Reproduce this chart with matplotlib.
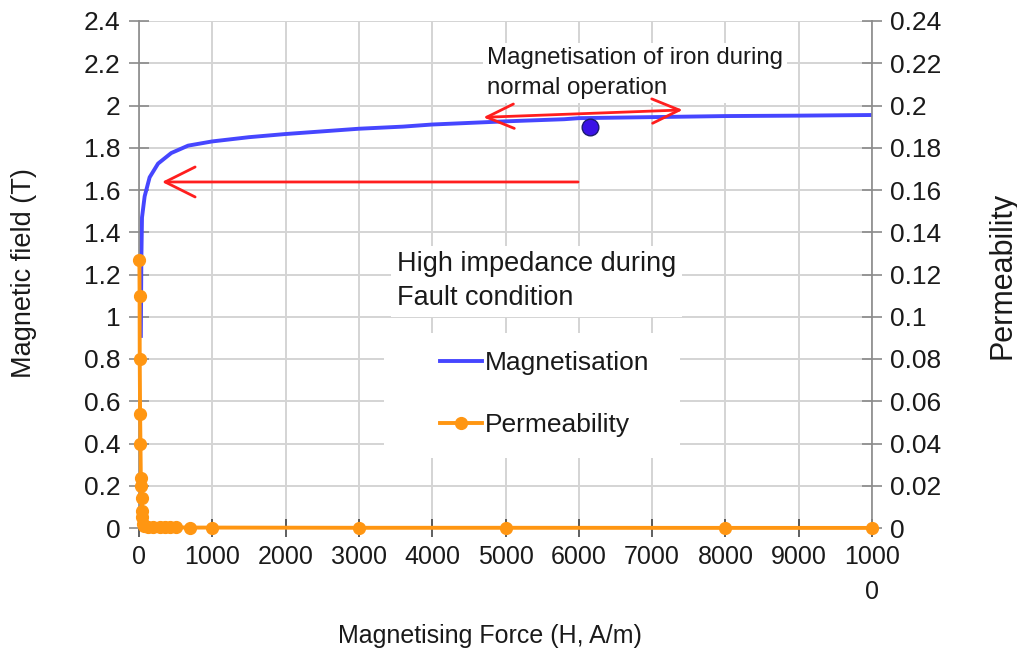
import matplotlib
matplotlib.use('Agg')
import matplotlib.pyplot as plt
from matplotlib.patches import Rectangle

plt.rcParams['font.family'] = ['Liberation Sans', 'DejaVu Sans']

# B-H magnetisation curve (left axis)
mag_H = [25, 32, 41, 77, 145, 260, 440, 670, 1000, 1500, 2000, 3000,
         3600, 4000, 5000, 5800, 6000, 7000, 8000, 9000, 10000]
mag_B = [0.90, 1.27, 1.47, 1.57, 1.66, 1.725, 1.775, 1.81, 1.83, 1.85, 1.865, 1.89,
         1.90, 1.91, 1.925, 1.935, 1.94, 1.945, 1.95, 1.952, 1.955]

# permeability (right axis)
perm_H = [5, 8, 10, 15, 20, 25, 28, 35, 40, 45, 55, 70, 120, 190, 290,
          350, 420, 500, 700, 1000, 3000, 5000, 8000, 10000]
perm_mu = [0.127, 0.110, 0.080, 0.054, 0.040, 0.0235, 0.020, 0.014, 0.008, 0.005,
           0.002, 0.0008, 0.0006, 0.0005, 0.0004, 0.0004, 0.0003, 0.0003, 0.0002,
           0.0002, 0.0001, 0.0001, 0.00005, 0.00004]

# normal operating point
op_H = [6150]
op_B = [1.90]

x_ticks = [0, 1000, 2000, 3000, 4000, 5000, 6000, 7000, 8000, 9000, 10000]
x_tick_labels = ['0', '1000', '2000', '3000', '4000', '5000', '6000', '7000',
                 '8000', '9000', '1000\n0']
left_ticks = [0, 0.2, 0.4, 0.6, 0.8, 1.0, 1.2, 1.4, 1.6, 1.8, 2.0, 2.2, 2.4]
left_tick_labels = ['0', '0.2', '0.4', '0.6', '0.8', '1', '1.2', '1.4', '1.6',
                    '1.8', '2', '2.2', '2.4']
right_ticks = [0, 0.02, 0.04, 0.06, 0.08, 0.10, 0.12, 0.14, 0.16, 0.18, 0.20,
               0.22, 0.24]
right_tick_labels = ['0', '0.02', '0.04', '0.06', '0.08', '0.1', '0.12', '0.14',
                     '0.16', '0.18', '0.2', '0.22', '0.24']

W, H = 1017, 657
fig = plt.figure(figsize=(W / 100, H / 100), dpi=100)
ax = fig.add_axes([139 / W, 1 - 528 / H, (872 - 139) / W, (528 - 21) / H])
ax2 = ax.twinx()

spine_col = '#8a8a8a'
grid_col = '#d4d4d4'
blue = '#4646ff'
orange = '#ff9612'
red = '#ff1e1e'

# grid under everything
ax.set_axisbelow(True)
ax.grid(True, color=grid_col, lw=1.4)

ax.plot(mag_H, mag_B, color=blue, lw=2.8, solid_capstyle='butt', zorder=2)
ax.plot(op_H, op_B, 'o', ms=12, color='#3a12e6', mec='#1c1c70', mew=1, zorder=4)

perm_line, = ax2.plot(perm_H, perm_mu, '-o', color=orange, lw=2.8, ms=8.5,
                      clip_on=False, zorder=3)

# white box behind legend
ax.add_patch(Rectangle((384 / W, 1 - 458 / H), (680 - 384) / W, (458 - 333) / H,
                       transform=fig.transFigure, facecolor='white',
                       edgecolor='none', zorder=1))

# arrows
ax.annotate('', xy=(314, 1.638), xytext=(5990, 1.638),
            arrowprops=dict(arrowstyle='->,head_length=1.6,head_width=0.8',
                            color=red, lw=2, shrinkA=0, shrinkB=0,
                            mutation_scale=13.5), zorder=5)
ax.annotate('', xy=(4697, 1.944), xytext=(7418, 1.979),
            arrowprops=dict(arrowstyle='<->,head_length=1.45,head_width=0.65',
                            color=red, lw=2, shrinkA=0, shrinkB=0,
                            mutation_scale=13.5), zorder=5)

ax.text(4748, 2.275, 'Magnetisation of iron during\nnormal operation', fontsize=17.3,
        va='top', ha='left', linespacing=1.45, color='#1a1a1a',
        bbox=dict(facecolor='white', edgecolor='none', pad=3))
ax.text(3520, 1.31, 'High impedance during\nFault condition', fontsize=19.5,
        va='top', ha='left', linespacing=1.4, color='#1a1a1a',
        bbox=dict(facecolor='white', edgecolor='none', pad=4))

mag_handle = plt.Line2D([], [], color=blue, lw=2.8)
leg = ax2.legend([mag_handle, perm_line], ['Magnetisation', 'Permeability'],
                 loc='upper left', bbox_to_anchor=(440 / W, 1 - 351 / H),
                 bbox_transform=fig.transFigure, frameon=False, fontsize=19,
                 handlelength=1.6, handletextpad=0.1, labelspacing=1.45,
                 borderpad=0, borderaxespad=0)
for t in leg.get_texts():
    t.set_color('#1a1a1a')

# axes, ticks
ax.set_xlim(0, 10000)
ax.set_ylim(0, 2.4)
ax2.set_ylim(0, 0.24)
ax.set_xticks(x_ticks)
ax.set_xticklabels(x_tick_labels)
ax.set_yticks(left_ticks)
ax.set_yticklabels(left_tick_labels)
ax2.set_yticks(right_ticks)
ax2.set_yticklabels(right_tick_labels)
for t in ax.get_xticklabels():
    t.set_linespacing(1.55)

for a in (ax, ax2):
    a.spines['top'].set_visible(False)
    for s in ('left', 'right', 'bottom'):
        a.spines[s].set_color(spine_col)
        a.spines[s].set_linewidth(1.2)
ax.spines['right'].set_visible(False)
ax2.spines['left'].set_visible(False)
ax2.spines['bottom'].set_visible(False)

ax.tick_params(axis='y', direction='inout', length=14.4, width=1.2, color=spine_col,
               pad=6, labelsize=19, labelcolor='#1a1a1a')
ax.tick_params(axis='x', direction='inout', length=13, width=1.2, color='#444444',
               pad=6, labelsize=18, labelcolor='#1a1a1a')
ax2.tick_params(axis='y', direction='inout', length=14.4, width=1.2, color=spine_col,
                pad=6, labelsize=19, labelcolor='#1a1a1a')

fig.text(24 / W, 1 - 273 / H, 'Magnetic field (T)', rotation=90, fontsize=19.5,
         ha='center', va='center', color='#1a1a1a')
fig.text(1002 / W, 1 - 275 / H, 'Permeability', rotation=90, fontsize=22,
         ha='center', va='center', color='#1a1a1a')
fig.text(490 / W, 1 - 636 / H, 'Magnetising Force (H, A/m)', fontsize=18,
         ha='center', va='center', color='#1a1a1a')

fig.savefig('out.png', dpi=100)
